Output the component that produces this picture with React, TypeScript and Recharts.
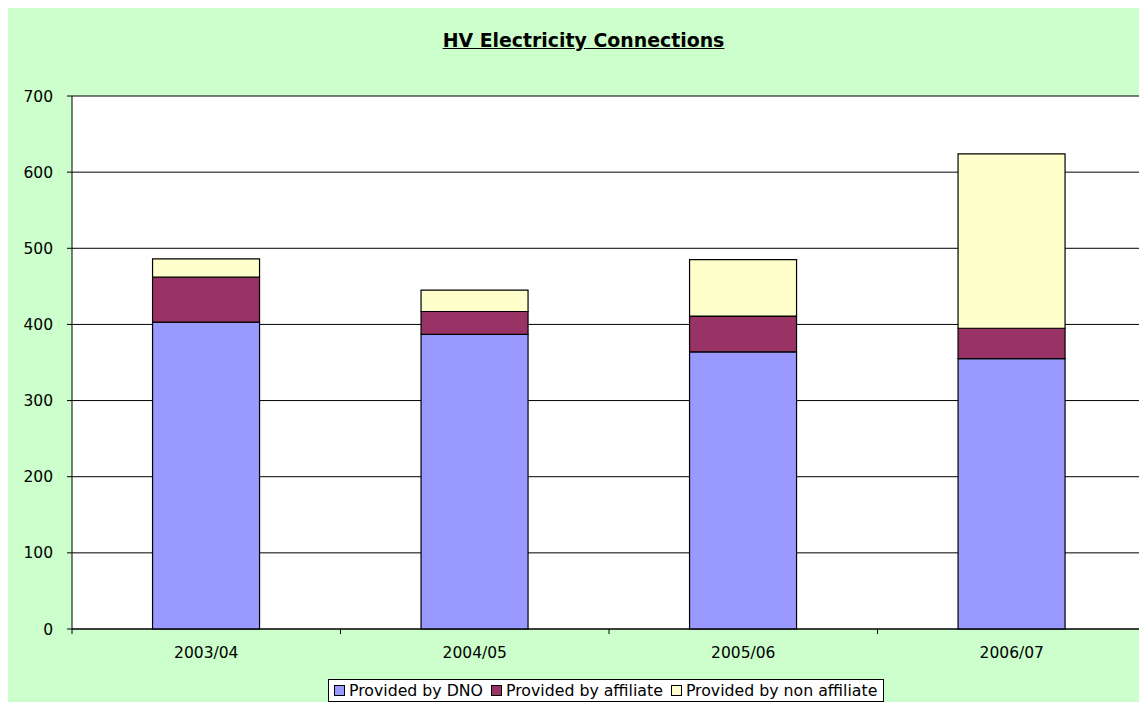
import React from "react";
import {
  BarChart,
  Bar,
  XAxis,
  YAxis,
  CartesianGrid,
  Legend,
} from "recharts";

const years = ["2003/04", "2004/05", "2005/06", "2006/07"];
const providedByDno = [403, 387, 364, 355];
const providedByAffiliate = [59, 30, 47, 40];
const providedByNonAffiliate = [24, 28, 74, 229];
const yTicks = [0, 100, 200, 300, 400, 500, 600, 700];

const FONT = "Verdana, 'DejaVu Sans', sans-serif";
const TICK_GAP = 18;

const data = years.map((y, i) => ({
  name: y,
  dno: providedByDno[i],
  affiliate: providedByAffiliate[i],
  nonAffiliate: providedByNonAffiliate[i],
}));

// Excel style: tick marks sit between categories, labels in the middle
const CategoryTick = (props: any) => {
  const { x, y, payload, index, visibleTicksCount } = props;
  const half = payload.offset ?? 0;
  const axisY = y - TICK_GAP;
  const isLast = index === visibleTicksCount - 1;
  return (
    <g>
      <line x1={x - half} x2={x - half} y1={axisY} y2={axisY + 5} stroke="#000" />
      {isLast && (
        <line x1={x + half} x2={x + half} y1={axisY} y2={axisY + 5} stroke="#000" />
      )}
      <text
        x={x}
        y={y}
        dy="0.71em"
        textAnchor="middle"
        fill="#000"
        fontSize={15.5}
        fontFamily={FONT}
      >
        {payload.value}
      </text>
    </g>
  );
};

const LegendBox = (props: any) => {
  const { payload = [] } = props;
  return (
    <div
      style={{
        display: "inline-flex",
        alignItems: "center",
        background: "#fff",
        border: "1px solid #000",
        padding: "0 6px 0 5px",
        height: 21,
        fontFamily: FONT,
        fontSize: 15.75,
        color: "#000",
        whiteSpace: "nowrap",
      }}
    >
      {payload.map((p: any, i: number) => (
        <span
          key={p.value}
          style={{
            display: "inline-flex",
            alignItems: "center",
            marginLeft: i === 0 ? 0 : 8,
          }}
        >
          <span
            style={{
              display: "inline-block",
              width: 9,
              height: 9,
              border: "1px solid #000",
              background: p.color,
              marginRight: 4,
            }}
          />
          {p.value}
        </span>
      ))}
    </div>
  );
};

export default function App() {
  return (
    <div
      style={{
        position: "relative",
        width: 1139,
        height: 694,
        background: "#CCFFCC",
        fontFamily: FONT,
      }}
    >
      <div
        style={{
          position: "absolute",
          left: 575.5,
          top: 21,
          transform: "translateX(-50%)",
          fontSize: 18.9,
          fontWeight: "bold",
          textDecoration: "underline",
          whiteSpace: "nowrap",
          color: "#000",
          zIndex: 1,
        }}
      >
        HV Electricity Connections
      </div>
      <BarChart
        width={1139}
        height={694}
        data={data}
        margin={{ top: 88, right: 1, bottom: 43, left: 0 }}
        barCategoryGap="30%"
      >
        <CartesianGrid vertical={false} stroke="#000" fill="#fff" />
        <CartesianGrid
          horizontal={false}
          stroke="#808080"
          verticalCoordinatesGenerator={({ offset }: any) => [
            offset.left + offset.width,
          ]}
        />
        <XAxis
          dataKey="name"
          height={30}
          tickLine={false}
          tickSize={0}
          tickMargin={TICK_GAP}
          axisLine={{ stroke: "#000" }}
          tick={<CategoryTick />}
          interval={0}
        />
        <YAxis
          width={64}
          domain={[0, 700]}
          ticks={yTicks}
          interval={0}
          tickSize={5}
          tickMargin={14}
          axisLine={{ stroke: "#000" }}
          tickLine={{ stroke: "#000" }}
          tick={{ fill: "#000", fontSize: 15.5, fontFamily: FONT }}
        />
        <Legend
          layout="horizontal"
          verticalAlign="middle"
          align="center"
          content={<LegendBox />}
          wrapperStyle={{ left: 320, top: 671, width: "auto", height: "auto" }}
        />
        <Bar
          dataKey="dno"
          name="Provided by DNO"
          stackId="a"
          fill="#9999FF"
          stroke="#000"
          strokeWidth={1.2}
          isAnimationActive={false}
        />
        <Bar
          dataKey="affiliate"
          name="Provided by affiliate"
          stackId="a"
          fill="#993366"
          stroke="#000"
          strokeWidth={1.2}
          isAnimationActive={false}
        />
        <Bar
          dataKey="nonAffiliate"
          name="Provided by non affiliate"
          stackId="a"
          fill="#FFFFCC"
          stroke="#000"
          strokeWidth={1.2}
          isAnimationActive={false}
        />
      </BarChart>
    </div>
  );
}
